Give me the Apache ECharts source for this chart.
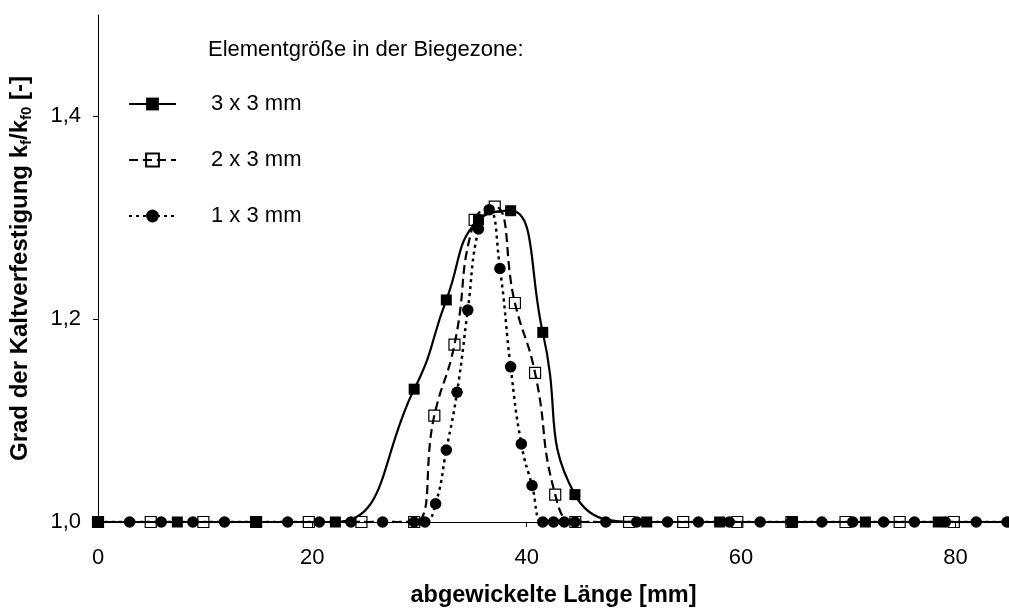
<!DOCTYPE html>
<html>
<head>
<meta charset="utf-8">
<script src="https://cdn.jsdelivr.net/npm/echarts@6/dist/echarts.min.js"></script>
<style>
html,body{margin:0;padding:0;background:#fff;}
#chart{width:1009px;height:613px;}
</style>
</head>
<body>
<div id="chart"></div>
<script>
// ---- data ----
const seriesNames = ['3 x 3 mm', '2 x 3 mm', '1 x 3 mm'];
const legendTitle = 'Elementgröße in der Biegezone:';
const xTicks = [0, 20, 40, 60, 80];
const yTicks = [1.0, 1.2, 1.4];

const x3 = [0, 7.4, 14.75, 22.15, 29.5, 32.5, 35.5, 38.5, 41.5, 44.5, 51.2, 58.0, 64.8, 71.6, 78.4, 85.2];
const y3 = [1, 1, 1, 1, 1.131, 1.219, 1.298, 1.307, 1.187, 1.027, 1, 1, 1, 1, 1, 1];

const x2 = [0, 4.92, 9.83, 14.75, 19.67, 24.58, 29.5, 31.38, 33.26, 35.14, 37.02, 38.9, 40.78, 42.66, 44.54, 49.55, 54.6, 59.65, 64.7, 69.75, 74.8, 79.85];
const y2 = [1, 1, 1, 1, 1, 1, 1, 1.105, 1.175, 1.298, 1.311, 1.216, 1.147, 1.027, 1, 1, 1, 1, 1, 1, 1, 1];

const x1 = [0, 2.95, 5.9, 8.85, 11.8, 14.75, 17.7, 20.65, 23.6, 26.55, 29.5, 30.5, 31.5, 32.5, 33.5, 34.5, 35.5, 36.5, 37.5, 38.5, 39.5, 40.5, 41.5, 42.5, 43.5, 44.5, 47.38, 50.26, 53.14, 56.02, 58.9, 61.78, 64.66, 67.54, 70.42, 73.3, 76.18, 79.06, 81.94, 84.82];
const y1 = [1, 1, 1, 1, 1, 1, 1, 1, 1, 1, 1, 1, 1.018, 1.071, 1.128, 1.209, 1.289, 1.308, 1.25, 1.153, 1.077, 1.036, 1, 1, 1, 1, 1, 1, 1, 1, 1, 1, 1, 1, 1, 1, 1, 1, 1, 1];

const pairs = (xs, ys) => xs.map((x, i) => [x, ys[i]]);
const FONT = '"Liberation Sans", Arial, sans-serif';
const fmt = v => v.toFixed(1).replace('.', ',');

const chart = echarts.init(document.getElementById('chart'), null, {renderer: 'canvas'});
chart.setOption({
  animation: false,
  backgroundColor: '#fff',
  textStyle: {fontFamily: FONT, color: '#000'},
  title: {
    text: legendTitle,
    left: 208, top: 39, padding: 0,
    textStyle: {fontFamily: FONT, fontSize: 22, fontWeight: 'normal', color: '#000'}
  },
  legend: {
    orient: 'vertical',
    left: 128, top: 92, padding: 0,
    itemWidth: 47, itemHeight: 16, itemGap: 32,
    data: seriesNames,
    selectedMode: false,
    textStyle: {fontFamily: FONT, fontSize: 22, color: '#000', lineHeight: 24, padding: [0, 0, 0, 30]}
  },
  grid: {left: 98, right: 0, top: 15, bottom: 91, containLabel: false},
  xAxis: {
    type: 'value', min: 0, max: 85, interval: 20,
    name: 'abgewickelte Länge [mm]', nameLocation: 'middle', nameGap: 62,
    nameTextStyle: {fontFamily: FONT, fontSize: 23.5, fontWeight: 'bold', color: '#000'},
    axisLine: {show: true, onZero: false, lineStyle: {color: '#000', width: 1}},
    axisTick: {show: true, length: 5, inside: false, customValues: xTicks, lineStyle: {color: '#000'}},
    axisLabel: {fontFamily: FONT, fontSize: 22, color: '#000', margin: 25, customValues: xTicks},
    splitLine: {show: false}
  },
  yAxis: {
    type: 'value', min: 1.0, max: 1.5, interval: 0.2,
    name: '{b|Grad der Kaltverfestigung k}{s|f}{b|/k}{s|f0}{b| [-]}',
    nameLocation: 'middle', nameGap: 64, nameRotate: 90,
    nameTextStyle: {
      fontFamily: FONT, fontSize: 24, fontWeight: 'bold', color: '#000',
      rich: {
        b: {fontFamily: FONT, fontSize: 24, fontWeight: 'bold', color: '#000', lineHeight: 28},
        s: {fontFamily: FONT, fontSize: 15, fontWeight: 'bold', color: '#000', verticalAlign: 'bottom', lineHeight: 28}
      }
    },
    axisLine: {show: true, lineStyle: {color: '#000', width: 1}},
    axisTick: {show: true, length: 5, customValues: yTicks, lineStyle: {color: '#000'}},
    axisLabel: {fontFamily: FONT, fontSize: 22, color: '#000', margin: 17, customValues: yTicks, formatter: fmt},
    splitLine: {show: false}
  },
  series: [
    {
      name: seriesNames[0], type: 'line', smooth: 0.5,
      data: pairs(x3, y3),
      symbol: 'rect', symbolSize: 11,
      itemStyle: {color: '#000'},
      lineStyle: {color: '#000', width: 2.2, type: 'solid'},
      emphasis: {disabled: true}, z: 2
    },
    {
      name: seriesNames[1], type: 'line', smooth: 0.5,
      data: pairs(x2, y2),
      symbol: 'rect', symbolSize: 11,
      itemStyle: {color: 'rgba(255,255,255,0)', borderColor: '#000', borderWidth: 1.2},
      lineStyle: {color: '#000', width: 2.2, type: [9, 5]},
      emphasis: {disabled: true}, z: 3
    },
    {
      name: seriesNames[2], type: 'line', smooth: 0.5,
      data: pairs(x1, y1),
      symbol: 'circle', symbolSize: 11.5,
      itemStyle: {color: '#000'},
      lineStyle: {color: '#000', width: 2.5, type: [3, 4]},
      emphasis: {disabled: true}, z: 4
    }
  ]
});
</script>
</body>
</html>
